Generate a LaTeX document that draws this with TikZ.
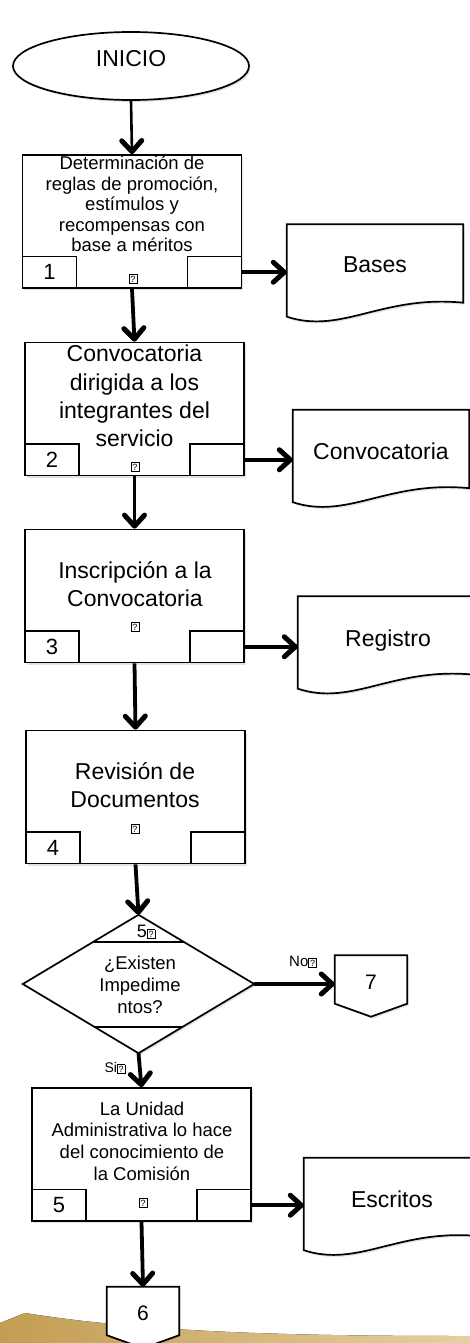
\documentclass[tikz,border=0pt]{standalone}
\usepackage{fontspec}
\setmainfont{Liberation Sans}
\usetikzlibrary{arrows.meta,shapes.geometric,shadows,calc}
\definecolor{gold}{RGB}{195,157,82}
\definecolor{goldlight}{RGB}{228,208,160}
\newcommand\qbox{{\setlength\fboxsep{1.1pt}\setlength\fboxrule{0.6pt}\fbox{\fontsize{9}{9}\selectfont ?}}}
\newcommand\fsz[2]{\fontsize{#1}{#2}\selectfont}
\newcommand\docpath[1]{\draw[shapeline,shad] (#1.north west) -- (#1.north east) -- ([yshift=14pt]#1.south east) .. controls ([xshift=95pt,yshift=22pt]#1.south west) and ([xshift=55pt,yshift=-18pt]#1.south west) .. (#1.south west) -- cycle;}
\newcommand\offpath[1]{\draw[shapeline,shad] (#1.north west) -- (#1.north east) -- (#1.south east) -- ([yshift=-13pt]#1.south) -- (#1.south west) -- cycle;}
\begin{document}
\begin{tikzpicture}[x=1pt,y=-1pt,
  shad/.style={drop shadow={opacity=0.22,shadow xshift=1.5pt,shadow yshift=-2pt}},
  shapeline/.style={draw,line width=1.7pt,fill=white},
  proc/.style={draw,line width=1.7pt,fill=white,inner sep=0,minimum width=219pt,minimum height=133pt,shad},
  cell/.style={draw,line width=1.7pt,fill=white,inner sep=0,minimum width=54pt,minimum height=31.5pt,font=\fsz{22}{26}},
  txtA/.style={align=center,inner sep=0,font=\fsz{23}{28.2}},
  txtB/.style={align=center,inner sep=0,font=\fsz{18.5}{20.4}},
  doctxt/.style={inner sep=0,font=\fsz{23}{26}},
  docbox/.style={inner sep=0,minimum width=176pt,minimum height=92pt},
  offbox/.style={inner sep=0,minimum width=72pt,minimum height=48pt},
  numtxt/.style={inner sep=0,font=\fsz{21}{24}},
  lbl/.style={inner sep=0,font=\fsz{14}{16}},
  qmark/.style={inner sep=0},
  arr/.style={line width=3.8pt,-{Straight Barb[length=11pt,width=20pt,line width=5pt,round]}},
  arrthin/.style={line width=2.6pt,-{Straight Barb[length=11pt,width=20pt,line width=5pt,round]}}
]
\useasboundingbox (0,0) rectangle (470,1343);
\clip (0,0) rectangle (470,1343);
% background band
\fill[left color=gold,right color=goldlight] (0,1323) -- (25,1313) .. controls (150,1333) and (300,1336) .. (470,1336) -- (470,1343) -- (0,1343) -- cycle;

% start
\node[ellipse,draw,line width=1.7pt,fill=white,minimum width=236pt,minimum height=68pt,inner sep=0,shad] (start) at (131,66) {};
\node[inner sep=0,font=\fsz{23}{26}] (startt) at (131,59) {INICIO};

% box 1
\node[proc] (b1) at (132,221.5) {};
\node[cell,anchor=south west] (b1l) at (b1.south west) {1};
\node[cell,anchor=south east] (b1r) at (b1.south east) {};
\node[txtB] (t1) at (132,204) {Determinación de\\reglas de promoción,\\estímulos y\\recompensas con\\base a méritos};
\node[qmark] (q1) at (133,279) {\qbox};

% box 2
\node[proc] (b2) at (134.5,409) {};
\node[cell,anchor=south west] (b2l) at (b2.south west) {2};
\node[cell,anchor=south east] (b2r) at (b2.south east) {};
\node[txtA] (t2) at (134.5,396) {Convocatoria\\dirigida a los\\integrantes del\\servicio};
\node[qmark] (q2) at (135,467) {\qbox};

% box 3
\node[proc] (b3) at (134.5,596) {};
\node[cell,anchor=south west] (b3l) at (b3.south west) {3};
\node[cell,anchor=south east] (b3r) at (b3.south east) {};
\node[txtA] (t3) at (135,584) {Inscripción a la\\Convocatoria};
\node[qmark] (q3) at (135,627) {\qbox};

% box 4
\node[proc] (b4) at (135.5,797) {};
\node[cell,anchor=south west] (b4l) at (b4.south west) {4};
\node[cell,anchor=south east] (b4r) at (b4.south east) {};
\node[txtA] (t4) at (135,785) {Revisión de\\Documentos};
\node[qmark] (q4) at (135,829) {\qbox};

% decision
\node[inner sep=0,minimum width=231pt,minimum height=138pt] (dia) at (138.5,984) {};
\draw[shapeline,shad] (dia.north) -- (dia.east) -- (dia.south) -- (dia.west) -- cycle;
\draw[line width=1.7pt] ($(dia.north)!0.391!(dia.west)$) -- ($(dia.north)!0.391!(dia.east)$);
\draw[line width=1.7pt] ($(dia.south)!0.377!(dia.west)$) -- ($(dia.south)!0.377!(dia.east)$);
\node[inner sep=0,font=\fsz{18}{20}] (d5) at (146,932) {5\qbox};
\node[txtB,font=\fsz{18.5}{22}] (td) at (140,985) {¿Existen\\Impedime\\ntos?};

% box 5
\node[proc] (b5) at (141.5,1154.5) {};
\node[cell,anchor=south west] (b5l) at (b5.south west) {5};
\node[cell,anchor=south east] (b5r) at (b5.south east) {};
\node[txtB,font=\fsz{18.5}{21.7}] (t5) at (142,1141) {La Unidad\\Administrativa lo hace\\del conocimiento de\\la Comisión};
\node[qmark] (q5) at (143,1203) {\qbox};

% documents
\node[docbox] (bases) at (375,270.5) {};
\docpath{bases}
\node[doctxt] (basest) at ([yshift=5.5pt]bases.center) {Bases};

\node[docbox] (conv) at (381,456) {};
\docpath{conv}
\node[doctxt] (convt) at ([yshift=5pt]conv.center) {Convocatoria};

\node[docbox] (reg) at (386,642.5) {};
\docpath{reg}
\node[doctxt] (regt) at ([yshift=2pt,xshift=2pt]reg.center) {Registro};

\node[docbox] (esc) at (392,1204) {};
\docpath{esc}
\node[doctxt] (esct) at ([yshift=5pt]esc.center) {Escritos};

% off-page connectors
\node[offbox] (c7) at (371,979.5) {};
\offpath{c7}
\node[numtxt] (c7t) at ([yshift=-3pt]c7.center) {7};

\node[offbox] (c6) at (143,1311) {};
\offpath{c6}
\node[numtxt] (c6t) at ([yshift=-2pt]c6.center) {6};

% labels
\node[lbl,font=\fsz{15}{17}] (no) at (303,962) {No\qbox};
\node[lbl] (si) at (115,1068) {Si\qbox};

% connectors
\draw[arrthin] (start.south) -- (b1.north);
\draw[arr] (b1.south) -- (b2.north);
\draw[arr] (b2.south) -- (b3.north);
\draw[arr] (b3.south) -- (b4.north);
\draw[arr] (b4.south) -- (dia.north);
\draw[arr] (dia.south) -- (b5.north);
\draw[arr] (b5.south) -- (c6.north);
\draw[arr] (b1r.east) -- (b1r.east -| bases.west);
\draw[arr] (b2r.east) -- (b2r.east -| conv.west);
\draw[arr] (b3r.east) -- (b3r.east -| reg.west);
\draw[arr] (b5r.east) -- (b5r.east -| esc.west);
\draw[arr] (dia.east) -- (dia.east -| c7.west);
\end{tikzpicture}
\end{document}
